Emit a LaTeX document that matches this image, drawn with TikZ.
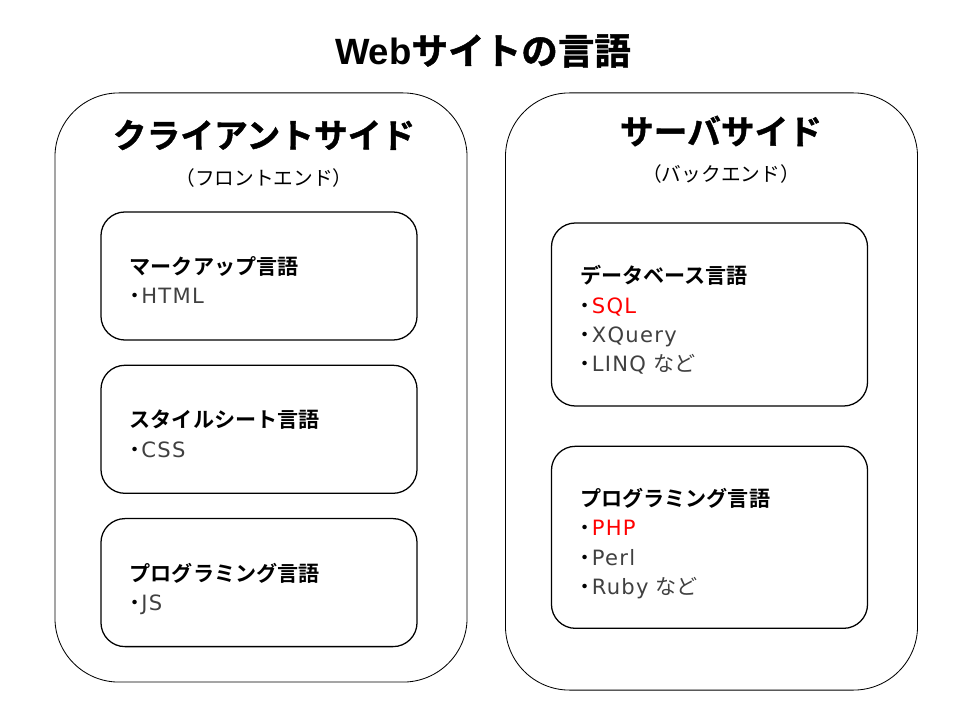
\documentclass[tikz,border=0pt]{standalone}
\usepackage{fontspec}
\setmainfont{Noto Sans CJK JP}[BoldFont={Noto Sans CJK JP Bold}]
\newfontfamily\heavyfont{Noto Sans CJK JP Bold}[FakeBold=1.2]
\newfontfamily\latinfont{DejaVu Sans}[LetterSpace=6]
\newfontfamily\titlelatin{Liberation Sans}[BoldFont={Liberation Sans Bold}]
\usetikzlibrary{positioning}
\definecolor{itemgray}{RGB}{64,64,64}
\definecolor{hot}{RGB}{255,0,0}
\newcommand{\bul}{\makebox[0.55em][l]{\hspace{-0.26em}・}}
\newcommand{\itm}[2][itemgray]{\bul\textcolor{#1}{#2}}

\begin{document}
\begin{tikzpicture}[
    x=0.025cm, y=-0.025cm,
    side/.style={rectangle, draw=black, line width=0.6pt, rounded corners=1.6cm, minimum width=10.3cm},
    langbox/.style={rectangle, draw=black, line width=0.9pt, rounded corners=0.6cm, minimum width=7.9cm, text width=6.46cm, inner xsep=0.72cm, align=left, font=\fontsize{15pt}{20.8pt}\selectfont,
        execute at begin node={\rule{0pt}{22.5pt}}, execute at end node={\rule[-3.75pt]{0pt}{0pt}}},
    head/.style={inner sep=0pt, font=\heavyfont\fontsize{24pt}{28pt}\selectfont},
    sub/.style={inner sep=0pt, font=\fontsize{14pt}{17pt}\selectfont},
    node distance=0.6cm
]
    \useasboundingbox (0,0) rectangle (960,720);
    \node[inner sep=0pt, font=\heavyfont\fontsize{26pt}{30pt}\selectfont] (title) at (483,51) {{\titlelatin\bfseries Web}サイトの言語};

    % client side
    \node[side, minimum height=14.725cm] (client) at (261,387.5) {};
    \node[head] (clienthead) at (264,135) {クライアントサイド};
    \node[sub, below=0.45cm of clienthead] (clientsub) {（フロントエンド）};
    \node[langbox, minimum height=3.2cm] (markup) at (259,276) {\textbf{マークアップ言語}\\\itm{\latinfont HTML}};
    \node[langbox, minimum height=3.2cm, below=of markup] (stylesheet) {\textbf{スタイルシート言語}\\\itm{\latinfont CSS}};
    \node[langbox, minimum height=3.2cm, below=of stylesheet] (clientprog) {\textbf{プログラミング言語}\\\itm{\latinfont JS}};

    % server side
    \node[side, minimum height=14.925cm] (server) at (711.5,391.5) {};
    \node[head] (serverhead) at (721,131) {サーバサイド};
    \node[sub, below=0.45cm of serverhead] (serversub) {（バックエンド）};
    \node[langbox, minimum height=4.575cm] (database) at (709.5,314.5) {\textbf{データベース言語}\\\itm[hot]{\latinfont SQL}\\\itm{\latinfont XQuery}\\\itm{{\latinfont LINQ} など}};
    \node[langbox, minimum height=4.55cm, below=0.975cm of database] (serverprog) {\textbf{プログラミング言語}\\\itm[hot]{\latinfont PHP}\\\itm{\latinfont Perl}\\\itm{{\latinfont Ruby} など}};
\end{tikzpicture}
\end{document}
